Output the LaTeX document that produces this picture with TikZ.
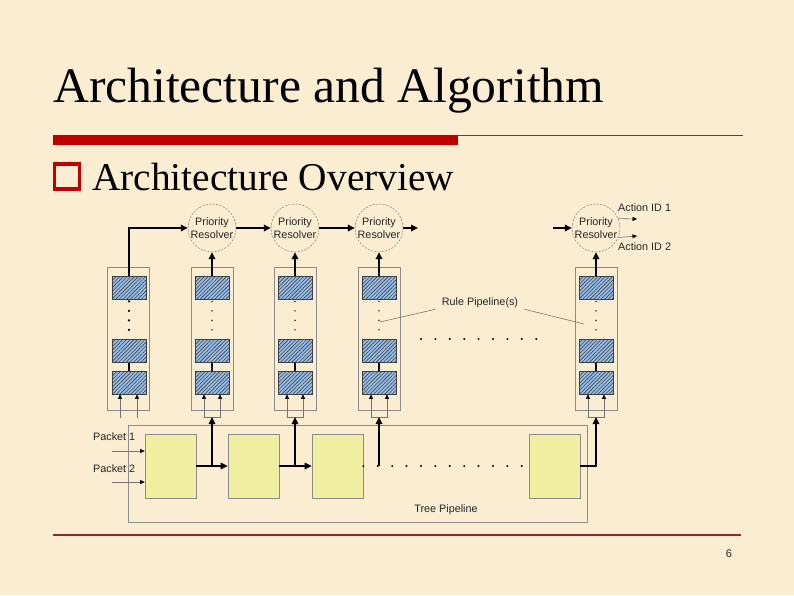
\documentclass[tikz,border=0pt]{standalone}
\usepackage{fontspec}
\setmainfont{Liberation Serif}
\newfontfamily\diagfont{Liberation Sans}
\usetikzlibrary{arrows.meta,patterns.meta}
\definecolor{parchment}{RGB}{250,237,209}
\definecolor{slidered}{RGB}{192,0,0}
\definecolor{rulered}{RGB}{150,40,40}
\definecolor{blockblue}{RGB}{150,190,235}
\definecolor{treeyellow}{RGB}{240,238,160}

\begin{document}
\begin{tikzpicture}[x=1pt,y=-1pt]
\tikzstyle{resolver}=[draw=black!60, circle, dash pattern=on 2pt off 1.5pt, minimum size=48pt, inner sep=0pt, align=center, font=\diagfont\fontsize{10.8}{12.8}\selectfont, text=black!85]
\tikzstyle{rulecol}=[draw=black!45, line width=0.7pt, minimum width=42pt, minimum height=143pt, inner sep=0pt]
\tikzstyle{rule}=[draw=black!75, line width=0.7pt, minimum width=34pt, minimum height=23pt, inner sep=0pt, preaction={fill=blockblue}, pattern={Lines[angle=45,distance=2.6pt,line width=0.6pt]}, pattern color=black!75]
\tikzstyle{treestage}=[draw=black!45, line width=0.7pt, fill=treeyellow, minimum width=51pt, minimum height=64pt, inner sep=0pt]
\tikzstyle{bus}=[line width=1.6pt, >={Triangle[length=7pt,width=6.5pt]}, ->]
\tikzstyle{link}=[line width=1.6pt]
\tikzstyle{feed}=[draw=black!55, line width=0.6pt, >={Triangle[length=4.5pt,width=4pt,color=black]}]
\tikzstyle{leader}=[draw=black!60, line width=0.5pt]
\tikzstyle{ruledots}=[line width=1.6pt, line cap=round, dash pattern=on 0pt off 9.5pt, shorten <=2pt]
\tikzstyle{stagedots}=[line width=2.2pt, line cap=round, dash pattern=on 0pt off 14.4pt]
\tikzstyle{txt}=[font=\diagfont\fontsize{10.8}{12.8}\selectfont, text=black!85, inner sep=1pt]

\fill[parchment] (0,0) rectangle (794,595);
\useasboundingbox (0,0) rectangle (794,595);

\draw (53,102) node[anchor=base west, inner sep=0pt, font=\fontsize{49.6}{58}\selectfont] (title) {Architecture and Algorithm};
\fill[slidered] (53,135) rectangle (458,145);
\draw[rulered, line width=1.2pt] (458,135.6) -- (743,135.6);
\draw (67,176.5) node[draw=slidered, line width=3.5pt, minimum size=25pt, inner sep=0pt] (bullet) {};
\draw (92,190) node[anchor=base west, inner sep=0pt, font=\fontsize{39.4}{46}\selectfont] (subtitle) {Architecture Overview};
\draw[rulered, line width=1.2pt] (53,535) -- (741,535);
\draw (729,554) node[txt, font=\diagfont\fontsize{11}{13}\selectfont] (page) {6};

\draw (357.5,473.5) node[draw=black!45, line width=1pt, minimum width=459pt, minimum height=97pt] (tree) {};

\draw (212,228) node[resolver] (pr1) {Priority\\Resolver};
\draw (295,228) node[resolver] (pr2) {Priority\\Resolver};
\draw (379,228) node[resolver] (pr3) {Priority\\Resolver};
\draw (596,228) node[resolver] (prn) {Priority\\Resolver};
\coordinate (pr3out) at (418,228);
\coordinate (prnin) at (553,228);
\coordinate (act1) at (637,219);
\coordinate (act2) at (637,236);

\draw (128,338.5) node[rulecol] (rp0) {};
\draw (212,338.5) node[rulecol] (rp1) {};
\draw (295,338.5) node[rulecol] (rp2) {};
\draw (379,338.5) node[rulecol] (rp3) {};
\draw (596,338.5) node[rulecol] (rpn) {};

\draw (129,287.5) node[rule] (rp0a) {};
\draw (129,351) node[rule] (rp0b) {};
\draw (129,382.5) node[rule] (rp0c) {};
\draw (212,287.5) node[rule] (rp1a) {};
\draw (212,351) node[rule] (rp1b) {};
\draw (212,382.5) node[rule] (rp1c) {};
\draw (295,287.5) node[rule] (rp2a) {};
\draw (295,351) node[rule] (rp2b) {};
\draw (295,382.5) node[rule] (rp2c) {};
\draw (379,287.5) node[rule] (rp3a) {};
\draw (379,351) node[rule] (rp3b) {};
\draw (379,382.5) node[rule] (rp3c) {};
\draw (596,287.5) node[rule] (rpna) {};
\draw (596,351) node[rule] (rpnb) {};
\draw (596,382.5) node[rule] (rpnc) {};

\draw (170.5,466) node[treestage] (ts1) {};
\draw (253.5,466) node[treestage] (ts2) {};
\draw (337.5,466) node[treestage] (ts3) {};
\draw (554.5,466) node[treestage] (tsn) {};

\coordinate (u1) at (212,417);
\coordinate (u2) at (295,417);
\coordinate (u3) at (379,417);
\coordinate (un) at (596,417);
\coordinate (in0a) at (120,418);
\coordinate (in0b) at (137,418);
\coordinate (pk1) at (112,451);
\coordinate (pk2) at (112,482);
\coordinate (gapl) at (421,339);
\coordinate (gapr) at (537,339);
\coordinate (rp3lead) at (380,322);
\coordinate (rpnlead) at (584,324);

\draw[bus] (rp0a.north) |- (pr1.west);
\draw[bus] (rp1a) -- (pr1);
\draw[bus] (rp2a) -- (pr2);
\draw[bus] (rp3a) -- (pr3);
\draw[bus] (rpna) -- (prn);
\draw[bus] (pr1) -- (pr2);
\draw[bus] (pr2) -- (pr3);
\draw[bus] (pr3) -- (pr3out);
\draw[bus] (prnin) -- (prn);
\draw[feed,->] (prn.23) -- (act1);
\draw[feed,->] (prn.-23) -- (act2);
\draw (617,208) node[txt, anchor=west] (act1lbl) {Action ID 1};
\draw (617,247) node[txt, anchor=west] (act2lbl) {Action ID 2};

\draw[ruledots, line width=2.4pt] (rp0a) -- (rp0b);
\draw[ruledots] (rp1a) -- (rp1b);
\draw[ruledots] (rp2a) -- (rp2b);
\draw[ruledots] (rp3a) -- (rp3b);
\draw[ruledots] (rpna) -- (rpnb);
\draw[link] (rp0b) -- (rp0c);
\draw[link] (rp1b) -- (rp1c);
\draw[link] (rp2b) -- (rp2c);
\draw[link] (rp3b) -- (rp3c);
\draw[link] (rpnb) -- (rpnc);

\draw[feed,->] (in0a) -- (in0a |- rp0c.south);
\draw[feed,->] (in0b) -- (in0b |- rp0c.south);
\draw[feed,<->] ([xshift=-8pt]rp1c.south) |- (u1) -| ([xshift=8pt]rp1c.south);
\draw[feed,<->] ([xshift=-8pt]rp2c.south) |- (u2) -| ([xshift=8pt]rp2c.south);
\draw[feed,<->] ([xshift=-8pt]rp3c.south) |- (u3) -| ([xshift=8pt]rp3c.south);
\draw[feed,<->] ([xshift=-8pt]rpnc.south) |- (un) -| ([xshift=8pt]rpnc.south);

\draw (480,303) node[txt, inner xsep=6pt] (rulelbl) {Rule Pipeline(s)};
\draw[leader] (rulelbl.south west) -- (rp3lead);
\draw[leader] (rulelbl.south east) -- (rpnlead);
\draw[stagedots] (gapl) -- (gapr);

\draw[bus] (ts1) -- (ts2);
\draw[bus] (ts1.east -| u1) -- (u1);
\draw[bus] (ts2) -- (ts3);
\draw[bus] (ts2.east -| u2) -- (u2);
\draw[stagedots] (ts3.east) -- (tsn.west);
\draw[bus] (ts3.east -| u3) -- (u3);
\draw[bus] (tsn.east) -| (un);

\draw[feed,->] (pk1) -- (pk1 -| ts1.west);
\draw[feed,->] (pk2) -- (pk2 -| ts1.west);
\draw (92,437) node[txt, anchor=west] (pk1lbl) {Packet 1};
\draw (92,469) node[txt, anchor=west] (pk2lbl) {Packet 2};
\draw (446,510) node[txt] (treelbl) {Tree Pipeline};
\end{tikzpicture}
\end{document}
